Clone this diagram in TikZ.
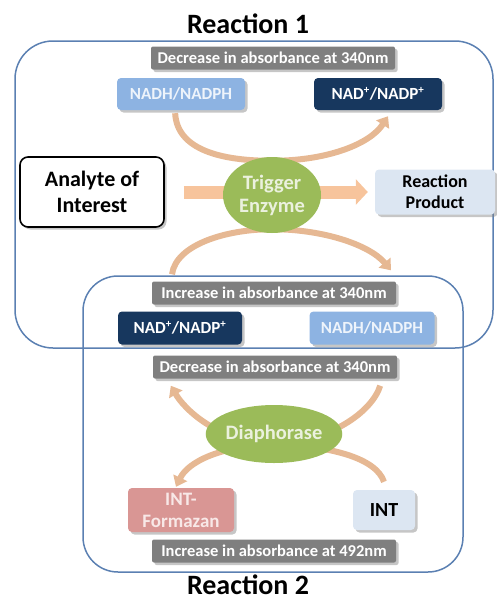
\documentclass[tikz,border=0pt]{standalone}
\usepackage{fontspec}
\setmainfont{Carlito}
\usetikzlibrary{arrows.meta,shadows,shapes.geometric,backgrounds}

\definecolor{frameblue}{HTML}{5B80B2}
\definecolor{bargrey}{HTML}{7F7F7F}
\definecolor{lightnad}{HTML}{8DB3E2}
\definecolor{darknad}{HTML}{17375E}
\definecolor{enzgreen}{HTML}{9BBB59}
\definecolor{enztext}{HTML}{EBF1DE}
\definecolor{prodblue}{HTML}{DCE6F2}
\definecolor{formpink}{HTML}{D99694}
\definecolor{formtext}{HTML}{F8E8E7}
\definecolor{flowpeach}{HTML}{F7C49C}
\definecolor{curvetan}{HTML}{E6B893}

\tikzset{
  boxshadow/.style={drop shadow={shadow xshift=2.5pt,shadow yshift=-2.5pt,fill=black!50,opacity=0.45}},
  absbar/.style={boxshadow, fill=bargrey, text=white, rounded corners=2pt, inner sep=1pt,
    minimum width=244pt, minimum height=23pt, font=\bfseries\fontsize{16.5}{18}\selectfont},
  cofactor/.style={boxshadow, rounded corners=4pt, minimum width=128pt, minimum height=32pt,
    font=\bfseries\fontsize{17}{19}\selectfont},
  product/.style={boxshadow, fill=prodblue, rounded corners=4pt, align=center,
    font=\bfseries\fontsize{18}{21}\selectfont},
  enzyme/.style={ellipse, fill=enzgreen, text=enztext, inner sep=0pt, align=center,
    font=\bfseries\fontsize{20.5}{23}\selectfont},
  curvearrow/.style={curvetan, line width=6pt, -{Triangle[width=15pt,length=10pt]}},
  title/.style={inner sep=0pt, font=\bfseries\fontsize{28}{30}\selectfont},
  frame/.style={frameblue, line width=1.5pt},
}
\newcommand{\plusup}{\textsuperscript{\fontsize{11}{11}\selectfont+}}

\begin{document}
\begin{tikzpicture}[x=1pt,y=-1pt]
  \useasboundingbox (0,0) rectangle (496,600);

  % Reaction 1
  \node[title] (title1) at (248,24) {Reaction 1};
  \draw[frame, rounded corners=38pt] (15,41) rectangle (493,348);
  \node[absbar] (dec1) at (273,58) {Decrease in absorbance at 340nm};
  \node[cofactor, fill=lightnad, text=white!85!lightnad] (nadhA) at (181,94) {NADH/NADPH};
  \node[cofactor, fill=darknad, text=white] (nadA) at (378,94) {NAD\plusup/NADP\plusup};

  % Analyte, enzyme and product
  \node[boxshadow, draw=black, line width=1.6pt, fill=white, rounded corners=8pt,
    minimum width=144pt, minimum height=70pt, align=center,
    font=\bfseries\fontsize{22}{26}\selectfont] (analyte) at (92,192) {Analyte of\\Interest};
  \node[enzyme, minimum width=98pt, minimum height=76pt] (trigger) at (272,195) {Trigger\\Enzyme};
  \node[product, minimum width=120pt, minimum height=45pt] (product) at (435,192) {Reaction\\Product};

  % Reaction 2
  \draw[frame, rounded corners=35pt] (83,276) rectangle (463,572);
  \node[absbar] (inc1) at (274,293) {Increase in absorbance at 340nm};
  \node[cofactor, fill=darknad, text=white, minimum width=124pt, minimum height=33pt] (nadB) at (180,328) {NAD\plusup/NADP\plusup};
  \node[cofactor, fill=lightnad, text=white!85!lightnad, minimum width=125pt, minimum height=33pt] (nadhB) at (372,328) {NADH/NADPH};
  \node[absbar] (dec2) at (275,367) {Decrease in absorbance at 340nm};
  \node[enzyme, minimum width=112pt, minimum height=58pt] (diaph) at (274,434) {Diaphorase};
  \node[boxshadow, fill=formpink, text=formtext, rounded corners=4pt, align=center,
    minimum width=106pt, minimum height=44pt,
    font=\bfseries\fontsize{19}{22}\selectfont] (formazan) at (181,510) {INT-\\Formazan};
  \node[product, minimum width=62pt, minimum height=40pt, font=\bfseries\fontsize{20}{22}\selectfont] (intB) at (384,510) {INT};
  \node[absbar] (inc2) at (274,551) {Increase in absorbance at 492nm};
  \node[title] (title2) at (248,585) {Reaction 2};

  % Arrows behind the enzymes
  \begin{pgfonlayer}{background}
    \draw[flowpeach, line width=13pt, -{Triangle[width=25pt,length=12pt]},
      shorten <=19pt, shorten >=7pt] (analyte.east) -- (product.west);
    \draw[curvearrow, shorten <=3pt] ([xshift=-6pt]nadhA.south)
      .. controls +(2,40) and +(-50,0) .. ([yshift=-4pt]trigger.north)
      .. controls +(55,0) and +(-18,28) .. ([xshift=10pt,yshift=-6pt]nadA.south);
    \draw[curvearrow] ([xshift=-8pt,yshift=37pt]nadB.north)
      .. controls +(4,-30) and +(-45,0) .. ([yshift=4pt]trigger.south)
      .. controls +(50,0) and +(-22,-26) .. ([xshift=19pt,yshift=41pt]nadhB.north);
    \draw[curvearrow] ([xshift=-17pt,yshift=-7pt]dec2.south east)
      .. controls +(-8,26) and +(56,-2) .. ([yshift=-10pt]diaph.center)
      .. controls +(-56,-2) and +(14,24) .. ([xshift=18pt,yshift=-7pt]dec2.south west);
    \draw[curvearrow] ([yshift=8pt]intB.north)
      .. controls +(-8,-24) and +(56,2) .. ([yshift=-10pt]diaph.center)
      .. controls +(-54,2) and +(12,-25) .. ([xshift=-5pt,yshift=1pt]formazan.north);
  \end{pgfonlayer}

\end{tikzpicture}
\end{document}
